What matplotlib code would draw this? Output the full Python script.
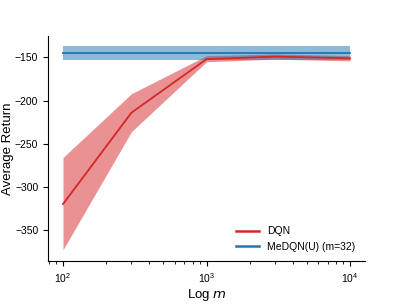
import matplotlib
matplotlib.use("Agg")
import matplotlib.pyplot as plt
import numpy as np

# data
m_values = [100, 300, 1000, 3000, 10000]
dqn_mean = [-320, -214, -152, -149, -151]
dqn_upper = [-266, -192, -148, -146, -148]
dqn_lower = [-373, -236, -155, -152, -154]

medqn_m = [100, 10000]
medqn_mean = [-145, -145]
medqn_upper = [-137, -137]
medqn_lower = [-153, -153]

plt.rcParams['font.family'] = ['Liberation Sans', 'DejaVu Sans']

fig = plt.figure(figsize=(4.05, 3.04), dpi=100)
ax = fig.add_axes([0.1185, 0.1414, 0.7825, 0.7406])

ax.plot(m_values, dqn_mean, color='tab:red', lw=1.3, label='DQN')
ax.fill_between(m_values, dqn_lower, dqn_upper, color='tab:red', alpha=0.5, lw=0)
ax.plot(medqn_m, medqn_mean, color='tab:blue', lw=1.3, label='MeDQN(U) (m=32)')
ax.fill_between(medqn_m, medqn_lower, medqn_upper, color='tab:blue', alpha=0.5, lw=0)

ax.set_xscale('log')
ax.set_xlim(78.6, 12700)
ax.set_ylim(-386, -125)
ax.set_yticks([-350, -300, -250, -200, -150])
ax.set_xlabel('Log $m$', fontsize=9.5, labelpad=2)
ax.set_ylabel('Average Return', fontsize=9.5, labelpad=1)
ax.tick_params(labelsize=7.5)
ax.spines['top'].set_visible(False)
ax.spines['right'].set_visible(False)
leg = ax.legend(loc='lower right', frameon=False, fontsize=7.5, handlelength=2.2)
for line in leg.get_lines():
    line.set_linewidth(1.8)

fig.savefig('out.png', dpi=100)
